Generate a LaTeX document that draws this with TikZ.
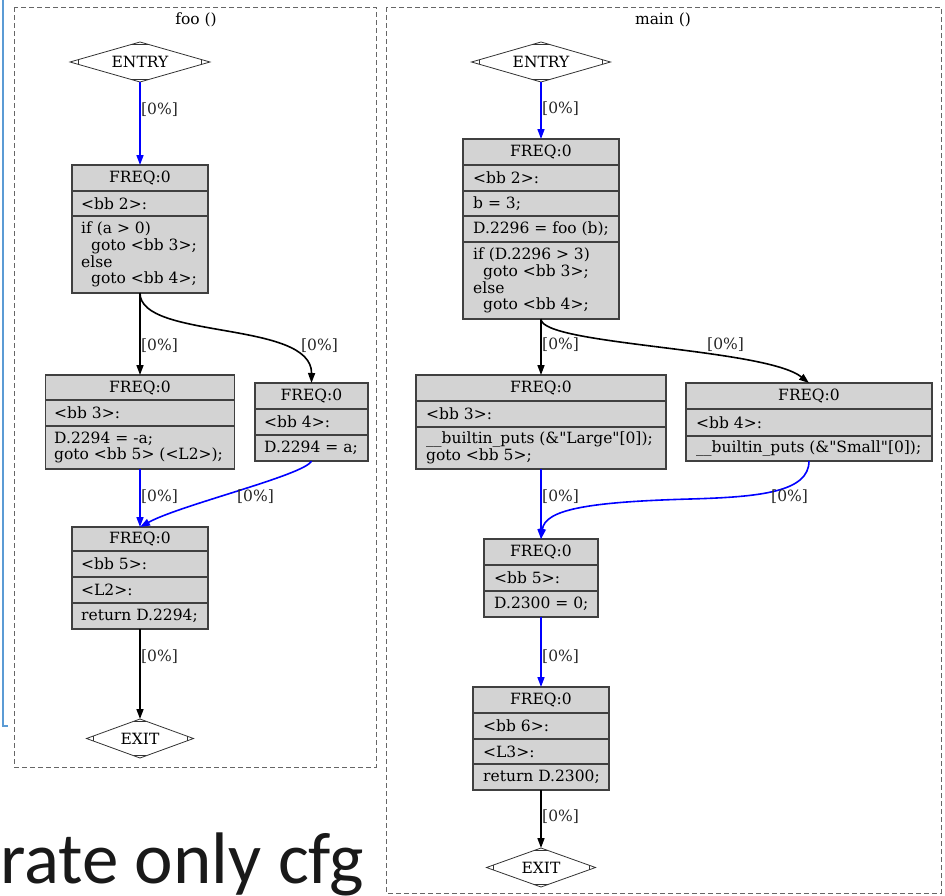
\documentclass[tikz,border=0pt]{standalone}
\usepackage{fontspec}
\newfontfamily\gvserif{DejaVu Serif}
\newfontfamily\slidefont{Carlito}
\usetikzlibrary{arrows.meta,shapes.geometric,calc}
\definecolor{boxfill}{HTML}{D3D3D3}
\definecolor{boxline}{HTML}{404040}
\definecolor{slideblue}{RGB}{91,155,213}
\newcommand\gvfont{\gvserif\fontsize{15.5}{16.7}\selectfont}
\newcommand\mdmarks[1]{%
  \draw[termmark] ($(#1.west)!0.12!(#1.north)$) -- ($(#1.west)!0.12!(#1.south)$);
  \draw[termmark] ($(#1.east)!0.12!(#1.north)$) -- ($(#1.east)!0.12!(#1.south)$);
  \draw[termmark] ($(#1.north)!0.12!(#1.west)$) -- ($(#1.north)!0.12!(#1.east)$);
  \draw[termmark] ($(#1.south)!0.12!(#1.west)$) -- ($(#1.south)!0.12!(#1.east)$);}
\begin{document}
\begin{tikzpicture}[x=1pt,y=-1pt,
  cluster/.style={draw=black!60, dash pattern=on 5pt off 3pt, line width=0.9pt},
  ctitle/.style={font=\gvfont, inner sep=0},
  bbox/.style={draw=boxline, fill=boxfill, line width=1.2pt, inner sep=0, outer sep=0},
  divider/.style={draw=boxline, line width=1.2pt},
  hdr/.style={font=\gvfont, inner sep=0},
  code/.style={font=\gvfont, align=left, anchor=west, inner sep=0},
  lbl/.style={font=\gvfont, anchor=west, inner sep=0, text=black!85},
  term/.style={diamond, shape aspect=3.5, draw=black!80, fill=white, line width=0.8pt, inner sep=0, outer sep=0, font=\gvfont},
  termmark/.style={draw=black!80, line width=0.8pt},
  kedge/.style={draw=black, line width=1.6pt, -{Triangle[length=10pt,width=7pt]}},
  bedge/.style={draw=blue, line width=1.6pt, -{Triangle[length=10pt,width=7pt]}}]
\useasboundingbox (0,0) rectangle (945,895);

% slide remnants
\draw[slideblue, line width=1.2pt] (3,0) -- (3,726) -- (8,726);
\node[anchor=base west, inner sep=0, font=\slidefont\fontsize{73}{80}\selectfont, text=black!90] (slide) at (0,883) {rate only cfg};

% ================= foo cluster =================
\draw[cluster] (14,7) rectangle (376,767);
\node[ctitle] (footitle) at (196,20) {foo ()};

\node[term, minimum width=140, minimum height=40] (fentry) at (140,62) {ENTRY};
\mdmarks{fentry}

\node[bbox, minimum width=136, minimum height=128] (f2) at (140,229) {};
\draw[divider] (f2.west |- 0,191) -- (f2.east |- 0,191);
\draw[divider] (f2.west |- 0,216) -- (f2.east |- 0,216);
\node[hdr] (f2h) at (140,178) {FREQ:0};
\node[code] (f2a) at (81,203.5) {<bb 2>:};
\node[code] (f2b) at (81,254.5) {if (a > 0)\\\hspace*{10pt}goto <bb 3>;\\else\\\hspace*{10pt}goto <bb 4>;};

\node[bbox, minimum width=189, minimum height=94] (f3) at (140,422) {};
\draw[divider] (f3.west |- 0,400) -- (f3.east |- 0,400);
\draw[divider] (f3.west |- 0,426) -- (f3.east |- 0,426);
\node[hdr] (f3h) at (140,387.5) {FREQ:0};
\node[code] (f3a) at (54,413) {<bb 3>:};
\node[code] (f3b) at (54,447.5) {D.2294 = -a;\\goto <bb 5> (<L2>);};

\node[bbox, minimum width=113, minimum height=78] (f4) at (311.5,422) {};
\draw[divider] (f4.west |- 0,409) -- (f4.east |- 0,409);
\draw[divider] (f4.west |- 0,435) -- (f4.east |- 0,435);
\node[hdr] (f4h) at (311.5,396) {FREQ:0};
\node[code] (f4a) at (264,422) {<bb 4>:};
\node[code] (f4b) at (264,448) {D.2294 = a;};

\node[bbox, minimum width=136, minimum height=102] (f5) at (140,578) {};
\draw[divider] (f5.west |- 0,551) -- (f5.east |- 0,551);
\draw[divider] (f5.west |- 0,577) -- (f5.east |- 0,577);
\draw[divider] (f5.west |- 0,603) -- (f5.east |- 0,603);
\node[hdr] (f5h) at (140,539) {FREQ:0};
\node[code] (f5a) at (81,564) {<bb 5>:};
\node[code] (f5b) at (81,590) {<L2>:};
\node[code] (f5c) at (81,616) {return D.2294;};

\node[term, minimum width=107, minimum height=39] (fexit) at (140,738.5) {EXIT};
\mdmarks{fexit}

\draw[bedge] (fentry.south) -- (f2.north);
\draw[kedge] (f2.south) -- (f3.north);
\draw[kedge] (f2.south) .. controls (140,340) and (312,320) .. (f4.north);
\draw[bedge] (f3.south) -- (f5.north);
\draw[bedge] (f4.south) .. controls (305,475) and (180,505) .. (f5.north);
\draw[kedge] (f5.south) -- (fexit.north);

\node[lbl] (lf1) at (141,110) {[0\%]};
\node[lbl] (lf2) at (141,346) {[0\%]};
\node[lbl] (lf3) at (301,346) {[0\%]};
\node[lbl] (lf4) at (141,497) {[0\%]};
\node[lbl] (lf5) at (237,497) {[0\%]};
\node[lbl] (lf6) at (141,657) {[0\%]};

% ================= main cluster =================
\draw[cluster] (386,7) rectangle (941,893);
\node[ctitle] (maintitle) at (663,20) {main ()};

\node[term, minimum width=139, minimum height=40] (mentry) at (541,62) {ENTRY};
\mdmarks{mentry}

\node[bbox, minimum width=156, minimum height=180] (m2) at (541,229) {};
\draw[divider] (m2.west |- 0,165) -- (m2.east |- 0,165);
\draw[divider] (m2.west |- 0,191) -- (m2.east |- 0,191);
\draw[divider] (m2.west |- 0,216) -- (m2.east |- 0,216);
\draw[divider] (m2.west |- 0,242) -- (m2.east |- 0,242);
\node[hdr] (m2h) at (541,152) {FREQ:0};
\node[code] (m2a) at (473,178) {<bb 2>:};
\node[code] (m2b) at (473,203.5) {b = 3;};
\node[code] (m2c) at (473,229) {D.2296 = foo (b);};
\node[code] (m2d) at (473,280.5) {if (D.2296 > 3)\\\hspace*{10pt}goto <bb 3>;\\else\\\hspace*{10pt}goto <bb 4>;};

\node[bbox, minimum width=250, minimum height=94] (m3) at (541,422) {};
\draw[divider] (m3.west |- 0,401) -- (m3.east |- 0,401);
\draw[divider] (m3.west |- 0,427) -- (m3.east |- 0,427);
\node[hdr] (m3h) at (541,388) {FREQ:0};
\node[code] (m3a) at (426,414) {<bb 3>:};
\node[code] (m3b) at (426,448) {\_\_builtin\_puts (\&"Large"[0]);\\goto <bb 5>;};

\node[bbox, minimum width=246, minimum height=78] (m4) at (809,422) {};
\draw[divider] (m4.west |- 0,409) -- (m4.east |- 0,409);
\draw[divider] (m4.west |- 0,436) -- (m4.east |- 0,436);
\node[hdr] (m4h) at (809,396) {FREQ:0};
\node[code] (m4a) at (696,422.5) {<bb 4>:};
\node[code] (m4b) at (696,448.5) {\_\_builtin\_puts (\&"Small"[0]);};

\node[bbox, minimum width=114, minimum height=78] (m5) at (541,578) {};
\draw[divider] (m5.west |- 0,565) -- (m5.east |- 0,565);
\draw[divider] (m5.west |- 0,591) -- (m5.east |- 0,591);
\node[hdr] (m5h) at (541,552) {FREQ:0};
\node[code] (m5a) at (494,578) {<bb 5>:};
\node[code] (m5b) at (494,604) {D.2300 = 0;};

\node[bbox, minimum width=136, minimum height=103] (m6) at (541,738.5) {};
\draw[divider] (m6.west |- 0,713) -- (m6.east |- 0,713);
\draw[divider] (m6.west |- 0,739) -- (m6.east |- 0,739);
\draw[divider] (m6.west |- 0,764) -- (m6.east |- 0,764);
\node[hdr] (m6h) at (541,700) {FREQ:0};
\node[code] (m6a) at (483,726) {<bb 6>:};
\node[code] (m6b) at (483,751.5) {<L3>:};
\node[code] (m6c) at (483,777) {return D.2300;};

\node[term, minimum width=109, minimum height=39] (mexit) at (541,867.5) {EXIT};
\mdmarks{mexit}

\draw[bedge] (mentry.south) -- (m2.north);
\draw[kedge] (m2.south) -- (m3.north);
\draw[kedge] (m2.south) .. controls (541,345) and (765,348) .. (m4.north);
\draw[bedge] (m3.south) -- (m5.north);
\draw[bedge] (m4.south) .. controls (809,492) and (760,497) .. (690,499) .. controls (585,502) and (545,510) .. (m5.north);
\draw[bedge] (m5.south) -- (m6.north);
\draw[kedge] (m6.south) -- (mexit.north);

\node[lbl] (lm1) at (542,109) {[0\%]};
\node[lbl] (lm2) at (542,345) {[0\%]};
\node[lbl] (lm3) at (707,345) {[0\%]};
\node[lbl] (lm4) at (542,497) {[0\%]};
\node[lbl] (lm5) at (771,497) {[0\%]};
\node[lbl] (lm6) at (542,657) {[0\%]};
\node[lbl] (lm7) at (542,817) {[0\%]};
\end{tikzpicture}
\end{document}
